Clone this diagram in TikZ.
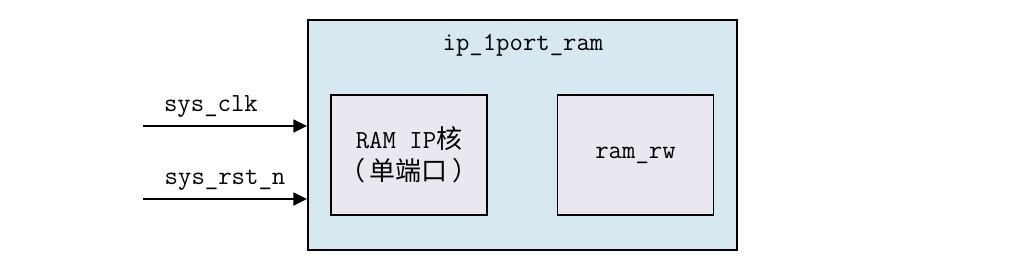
\documentclass[tikz,border=0pt]{standalone}
\usepackage{fontspec}
\newfontfamily\cjk{Noto Sans CJK SC}
\usetikzlibrary{positioning,arrows.meta}
\definecolor{topfill}{RGB}{215,233,240}
\definecolor{subfill}{RGB}{233,232,241}

\begin{document}
\begin{tikzpicture}[x=0.025cm,y=-0.025cm,>={Triangle[length=3.4mm,width=3.2mm]},
  every node/.style={font=\fontsize{18.5pt}{22.5pt}\selectfont\ttfamily},
  topbox/.style={draw,line width=1.3pt,fill=topfill,minimum width=10.725cm,minimum height=5.75cm},
  subbox/.style={draw,line width=1.3pt,fill=subfill,minimum width=3.9cm,minimum height=3cm,align=center}]
\useasboundingbox (0,0) rectangle (1017,270);
\node[topbox] (top) at (522.5,135) {};
\node (title) at (523,45) {ip\_1port\_ram};
\node[subbox] (ramip) at (409,155) {RAM IP{\cjk 核}\\{\cjk （\,单端口\,）}};
\node[subbox] (ramrw) at (635.5,155) {ram\_rw};
\coordinate (clkin) at (143,126);
\coordinate (rstin) at (143,199);
\draw[->,line width=1.3pt] (clkin) -- (clkin -| top.west) node[midway,above=2pt,xshift=-10]{sys\_clk};
\draw[->,line width=1.3pt] (rstin) -- (rstin -| top.west) node[midway,above=2pt]{sys\_rst\_n};
\end{tikzpicture}
\end{document}
